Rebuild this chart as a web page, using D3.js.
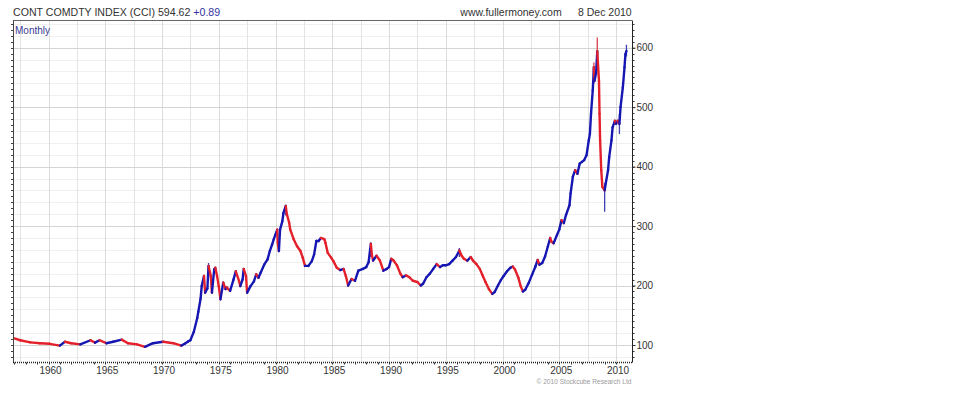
<!DOCTYPE html>
<html><head><meta charset="utf-8">
<script src="https://cdn.jsdelivr.net/npm/d3@7/dist/d3.min.js"></script>
<style>
html,body{margin:0;padding:0;background:#fff;}
svg text{font-family:"Liberation Sans",Arial,sans-serif;}
</style></head>
<body><svg id="c" width="960" height="396"></svg>
<script>
// ---- data (decimal year, monthly close) ----
const years = [1957.0,1957.5,1958.4,1959.25,1960.1,1961.0,1961.45,1962.0,1962.8,1963.7,1964.1,1964.5,1965.1,1965.7,1966.45,1967.0,1967.8,1968.5,1969.2,1970.1,1971.0,1971.7,1972.0,1972.3,1972.5,1972.8,1973.1,1973.2,1973.4,1973.5,1973.7,1973.8,1974.0,1974.1,1974.3,1974.4,1974.6,1974.7,1974.85,1975.0,1975.15,1975.3,1975.4,1975.6,1975.7,1976.0,1976.3,1976.5,1976.8,1976.9,1977.1,1977.2,1977.4,1977.5,1977.8,1978.1,1978.3,1978.5,1978.7,1979.0,1979.3,1979.5,1979.7,1979.85,1980.0,1980.15,1980.2,1980.3,1980.4,1980.6,1980.7,1980.9,1981.0,1981.2,1981.3,1981.6,1981.9,1982.2,1982.4,1982.6,1982.9,1983.2,1983.4,1983.6,1983.8,1984.0,1984.3,1984.4,1984.6,1984.9,1985.1,1985.4,1985.7,1986.0,1986.2,1986.4,1986.7,1987.0,1987.3,1987.7,1988.0,1988.2,1988.4,1988.5,1988.6,1988.9,1989.2,1989.5,1989.8,1990.0,1990.2,1990.4,1990.7,1991.0,1991.2,1991.5,1991.8,1992.1,1992.5,1992.8,1993.0,1993.3,1993.6,1993.9,1994.2,1994.5,1994.75,1995.0,1995.3,1995.6,1995.9,1996.2,1996.4,1996.6,1996.9,1997.2,1997.4,1997.7,1998.0,1998.25,1998.5,1998.8,1999.1,1999.3,1999.6,1999.85,2000.1,2000.4,2000.7,2000.9,2001.1,2001.4,2001.6,2001.8,2002.0,2002.3,2002.6,2002.9,2003.1,2003.25,2003.5,2003.75,2004.0,2004.2,2004.3,2004.5,2004.8,2005.0,2005.2,2005.4,2005.6,2005.9,2006.0,2006.2,2006.4,2006.6,2006.8,2007.0,2007.2,2007.4,2007.6,2007.7,2007.8,2007.95,2008.05,2008.1,2008.25,2008.35,2008.5,2008.55,2008.6,2008.7,2008.8,2009.0,2009.1,2009.3,2009.4,2009.6,2009.7,2009.9,2010.0,2010.15,2010.3,2010.4,2010.6,2010.75,2010.83,2010.92];
const closes = [111,108,104.5,103,102,99,105.5,103,101,108,104,108,103,105.5,109,103,101,97,103,105.5,103,99,102,106,108,122,145,156,178,199,216,188,195,233,216,188,227,230,216,199,177,194,205,194,197,191,210,224,207,199,210,228,216,188,199,207,219,213,222,235,244,258,269,278,286,294,272,258,294,308,322,334,320,306,294,278,266,258,247,233,233,241,252,275,275,280,278,272,255,247,241,230,226,228,216,200,211,208,225,228,231,239,270,250,242,250,242,225,228,231,245,242,234,220,214,217,214,208,206,200,203,214,220,228,236,231,234,234,236,242,248,259,250,245,242,248,242,236,228,217,206,194,186,189,200,209,216,224,230,232,227,213,199,190,193,204,218,232,243,235,238,249,266,280,274,271,285,294,310,305,319,335,355,383,394,388,405,408,411,419,444,455,489,528,567,544,558,594,544,489,444,394,366,360,372,394,416,444,466,477,472,477,472,500,533,567,589,594.62];
// notable bar extremes (wicks)
const wickYears = [1974.1,1980.9,1988.4,1996.2,2008.05,2008.35,2009.0,2010.3,2010.92];
const wickHigh  = [238,336,273,263,575,617,372,488,605];
const wickLow   = [214,318,248,248,540,560,324,455,585];
const yearTicks = [1960,1965,1970,1975,1980,1985,1990,1995,2000,2005,2010];
const valueTicks = [100,200,300,400,500,600];

const title = "CONT COMDTY INDEX (CCI) 594.62 ";
const change = "+0.89";
const site = "www.fullermoney.com";
const dateLabel = "8 Dec 2010";
const periodLabel = "Monthly";
const copyright = "\u00A9 2010 Stockcube Research Ltd";

// ---- layout ----
const L = 13, R = 632, T = 20.5, B = 362.5;
const x = d3.scaleLinear().domain([1960, 2010]).range([48.5, 616]);
const y = d3.scaleLinear().domain([100, 600]).range([345, 47.7]);
const blue = "#1616b2", red = "#e4202a";

const svg = d3.select("#c");

// grid
const g = svg.append("g");
const minorY = d3.range(80, 641, 20).filter(v => v % 100 !== 0 && y(v) > T && y(v) < B);
g.selectAll(".hm").data(minorY).join("line")
  .attr("x1", L).attr("x2", R).attr("y1", d => Math.round(y(d)) + 0.5).attr("y2", d => Math.round(y(d)) + 0.5)
  .attr("stroke", "#f0f0f0");
const vYears = d3.range(1957.5, 2011, 2.5);
g.selectAll(".v").data(vYears).join("line")
  .attr("y1", T).attr("y2", B).attr("x1", d => Math.round(x(d)) + 0.5).attr("x2", d => Math.round(x(d)) + 0.5)
  .attr("stroke", d => (d % 5 === 0) ? "#dcdcdc" : "#e4e4e4");
g.selectAll(".h").data(valueTicks).join("line")
  .attr("x1", L).attr("x2", R).attr("y1", d => Math.round(y(d)) + 0.5).attr("y2", d => Math.round(y(d)) + 0.5)
  .attr("stroke", "#d4d4d4");

// frame
svg.append("line").attr("x1", L).attr("x2", R).attr("y1", T).attr("y2", T).attr("stroke", "#666");
svg.append("line").attr("x1", L + 0.5).attr("x2", L + 0.5).attr("y1", T).attr("y2", B).attr("stroke", "#444");
svg.append("line").attr("x1", L).attr("x2", R).attr("y1", B).attr("y2", B).attr("stroke", "#222").attr("stroke-dasharray", "1,1").attr("stroke-width", 1.5);

// left minor ticks
const ltick = d3.range(80, 641, 10).filter(v => y(v) > T && y(v) < B);
svg.selectAll(".lt").data(ltick).join("line")
  .attr("x1", L - 2).attr("x2", L).attr("y1", d => Math.round(y(d)) + 0.5).attr("y2", d => Math.round(y(d)) + 0.5)
  .attr("stroke", "#444");

// right axis
const ra = svg.append("g").attr("transform", `translate(${R + 0.5},0)`)
  .call(d3.axisRight(y).tickValues(valueTicks).tickSize(3).tickPadding(1).tickFormat(d3.format("d")));
ra.select(".domain").attr("d", `M0,${T}V${B}`).attr("stroke", "#222");
ra.selectAll("text").attr("font-size", 10).attr("fill", "#333").attr("font-family", "Liberation Sans, Arial");
ra.selectAll(".tick line").attr("stroke", "#222");
svg.selectAll(".rt").data(ltick).join("line")
  .attr("x1", R + 0.5).attr("x2", R + 2.5).attr("y1", d => Math.round(y(d)) + 0.5).attr("y2", d => Math.round(y(d)) + 0.5)
  .attr("stroke", "#333");

// bottom axis labels
const ba = svg.append("g").attr("transform", `translate(0,${B})`)
  .call(d3.axisBottom(x).tickValues(yearTicks).tickSize(0).tickPadding(4).tickFormat(d3.format("d")));
ba.select(".domain").remove();
ba.selectAll("text").attr("font-size", 10).attr("fill", "#333").attr("font-family", "Liberation Sans, Arial").attr("dx", 1.5);
svg.selectAll(".bt").data(d3.range(1957, 2011)).join("line")
  .attr("x1", d => Math.round(x(d)) + 0.5).attr("x2", d => Math.round(x(d)) + 0.5).attr("y1", B).attr("y2", B + 2)
  .attr("stroke", "#333");

// series
const clipId = "plotclip";
svg.append("clipPath").attr("id", clipId).append("rect").attr("x", L + 1).attr("y", T).attr("width", R - L - 1).attr("height", B - T);
const sg = svg.append("g").attr("clip-path", `url(#${clipId})`);
const pts = years.map((yr, i) => ({yr, v: closes[i]}));
const segs = pts.slice(1).map((p, i) => ({a: pts[i], b: p}));
sg.selectAll(".wk").data(wickYears).join("line")
  .attr("x1", d => x(d)).attr("x2", d => x(d))
  .attr("y1", (d, i) => y(wickHigh[i])).attr("y2", (d, i) => y(wickLow[i]))
  .attr("stroke", (d, i) => d === 2008.35 || d === 2008.05 ? "#d84050" : "#4040b4").attr("stroke-width", 1.3);
sg.selectAll(".seg").data(segs).join("line")
  .attr("x1", d => x(d.a.yr)).attr("y1", d => y(d.a.v))
  .attr("x2", d => x(d.b.yr)).attr("y2", d => y(d.b.v))
  .attr("stroke", d => d.b.v >= d.a.v ? blue : red)
  .attr("stroke-width", 2.4).attr("stroke-linecap", "round");

// texts
const t = svg.append("text").attr("x", 13).attr("y", 15.5).attr("font-size", 10.6).attr("fill", "#333");
t.append("tspan").text(title);
t.append("tspan").attr("fill", "#3434a4").text(change);
svg.append("text").attr("x", 15).attr("y", 33.5).attr("font-size", 10).attr("fill", "#3a3a94").text(periodLabel);
svg.append("text").attr("x", 561.7).attr("y", 15.5).attr("text-anchor", "end").attr("font-size", 10.5).attr("fill", "#333").text(site);
svg.append("text").attr("x", 631.7).attr("y", 15.5).attr("text-anchor", "end").attr("font-size", 10.5).attr("fill", "#333").text(dateLabel);
svg.append("text").attr("x", 631.5).attr("y", 383.5).attr("text-anchor", "end").attr("font-size", 6.6).attr("fill", "#9a9a9a").text(copyright);
</script></body></html>
